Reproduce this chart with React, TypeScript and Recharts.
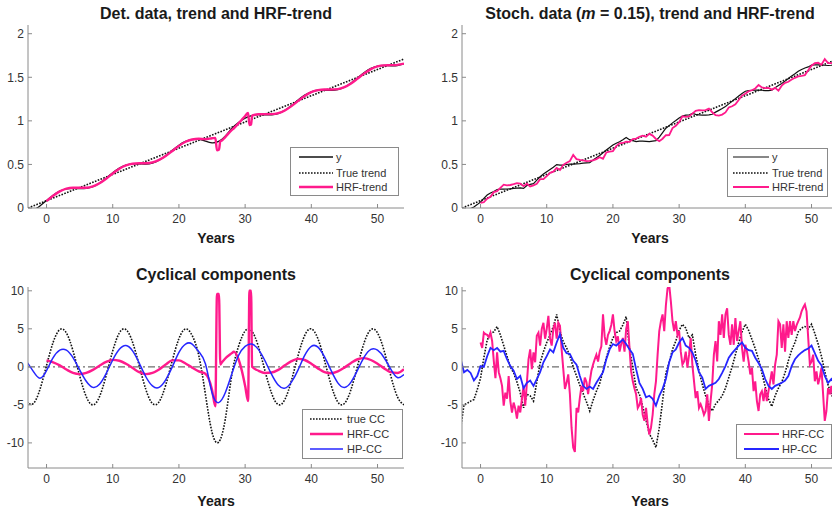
import React from 'react';
import { LineChart, Line, XAxis, YAxis, ReferenceLine } from 'recharts';

const range = (start: number, end: number, step: number) =>
  Array.from({ length: Math.round((end - start) / step) + 1 }, (_, i) => +(start + i * step).toFixed(2));

const FONT = '"Liberation Sans", Arial, Helvetica, sans-serif';
const PINK = '#ff1a8c';
const BLUE = '#2626ff';
const DARK = '#111111';
const DOTS = '1.6 1.4';

const xTicks = [0, 10, 20, 30, 40, 50];
const trendTicks = [0, 0.5, 1, 1.5, 2];
const cycleTicks = [-10, -5, 0, 5, 10];
const yearDomain = [-2.8, 54];
const trendDomain = [0, 2.1];
const cycleDomain = [-13.3, 10.5];

// ---- deterministic data (left column) ----
const detYears = range(-3, 54, 1);
const detY = [
  -0.052, -0.024, 0.024, 0.086, 0.146, 0.193, 0.219, 0.225, 0.222, 0.225, 0.244, 0.285, 0.342, 0.405, 0.459,
  0.493, 0.506, 0.506, 0.504, 0.516, 0.548, 0.6, 0.662, 0.721, 0.764, 0.785, 0.789, 0.768, 0.748, 0.765,
  0.825, 0.914, 0.981, 1.031, 1.061, 1.071, 1.069, 1.069, 1.084, 1.121, 1.176, 1.239, 1.295, 1.334, 1.351,
  1.352, 1.35, 1.358, 1.386, 1.434, 1.496, 1.556, 1.603, 1.629, 1.635, 1.632, 1.635, 1.654,
];
const detTrueCC = [
  -4.6, -4.82, -2.97, 0.17, 3.23, 4.9, 4.46, 2.1, -1.16, -3.92, -5.0, -3.92, -1.16, 2.1, 4.46, 4.9, 3.23,
  0.17, -2.97, -4.82, -4.6, -2.4, 0.83, 3.71, 4.99, 4.12, 1.48, -3.6, -8.6, -9.9, -6.9, -1.0, 2.69, 4.72,
  4.72, 2.69, -0.51, -3.48, -4.96, -4.3, -1.79, 1.49, 4.13, 4.99, 3.7, 0.83, -2.41, -4.61, -4.82, -2.96,
  0.17, 3.23, 4.9, 4.46, 2.1, -1.17, -3.93, -5.0,
];
const detHP = [
  0.7, -0.6, -1.5, -0.5, 1.2, 2.2, 2.2, 1.2, -0.4, -1.9, -2.7, -2.3, -0.9, 0.9, 2.3, 2.8, 2.1, 0.5, -1.3,
  -2.5, -2.7, -1.7, 0.0, 1.9, 3.0, 3.0, 2.0, 0.4, -3.4, -4.7, -3.4, -0.9, 1.5, 2.7, 3.0, 2.3, 0.8, -1.0,
  -2.4, -2.8, -2.0, -0.4, 1.5, 2.7, 2.6, 1.3, -0.5, -2.1, -2.7, -2.0, -0.4, 1.3, 2.3, 2.2, 1.2, -0.3, -1.4,
  -1.0,
];
const trendYears = [-2.8, 54];
const trueTrend = [0, 1.71];

const detHrfYears = [
  0, 1, 2, 3, 4, 5, 6, 7, 8, 9, 10, 11, 12, 13, 14, 15, 16, 17, 18, 19, 20, 21, 22, 23, 24, 25, 25.5, 25.75,
  26.05, 26.25, 26.5, 27, 28, 28.3, 29, 29.5, 30, 30.45, 30.65, 30.9, 31.05, 32, 33, 34, 35, 36, 37, 38, 39,
  40, 41, 42, 43, 44, 45, 46, 47, 48, 49, 50, 51, 52, 53, 54,
];
const detHrfTrend = [
  0.078, 0.14, 0.191, 0.223, 0.233, 0.232, 0.233, 0.248, 0.284, 0.336, 0.396, 0.451, 0.489, 0.508, 0.513,
  0.514, 0.524, 0.552, 0.597, 0.654, 0.713, 0.76, 0.786, 0.795, 0.79, 0.8, 0.804, 0.661, 0.67, 0.767, 0.774,
  0.814, 0.896, 0.915, 0.971, 1.013, 1.056, 1.09, 0.952, 0.958, 1.061, 1.076, 1.077, 1.077, 1.088, 1.119,
  1.169, 1.229, 1.286, 1.33, 1.353, 1.359, 1.359, 1.364, 1.387, 1.429, 1.486, 1.545, 1.594, 1.625, 1.637,
  1.639, 1.643, 1.657,
];
const detHrfCC = [
  0.85, 0.6, 0.2, -0.35, -0.8, -0.95, -0.8, -0.4, 0.15, 0.65, 0.92, 0.8, 0.4, -0.15, -0.7, -0.95, -0.8,
  -0.35, 0.3, 0.85, 0.85, 0.45, -0.1, -0.6, -0.9, -3.0, -5.2, 9.6, 9.6, 0.3, 0.6, 1.1, 1.8, 2.0, 1.0, -0.5,
  -2.5, -4.5, 10.0, 10.0, 0.0, -0.5, -0.8, -0.75, -0.4, 0.2, 0.75, 1.05, 0.9, 0.4, -0.2, -0.7, -0.85, -0.6,
  -0.1, 0.5, 1.0, 1.15, 0.9, 0.4, -0.2, -0.7, -0.8, -0.3,
];

// ---- stochastic data (right column) ----
const stochYears = range(-3, 54, 0.5);
const stochY = [
  -0.086, -0.041, -0.024, -0.006, 0.011, 0.039, 0.069, 0.111, 0.149, 0.173, 0.19, 0.212, 0.216, 0.217,
  0.218, 0.219, 0.226, 0.229, 0.23, 0.225, 0.258, 0.271, 0.279, 0.319, 0.359, 0.389, 0.416, 0.441, 0.467,
  0.498, 0.491, 0.492, 0.499, 0.503, 0.504, 0.507, 0.51, 0.514, 0.518, 0.521, 0.55, 0.577, 0.602, 0.634,
  0.666, 0.695, 0.722, 0.744, 0.761, 0.784, 0.81, 0.784, 0.773, 0.761, 0.768, 0.767, 0.764, 0.761, 0.768,
  0.773, 0.814, 0.864, 0.916, 0.945, 0.977, 1.003, 1.032, 1.055, 1.065, 1.067, 1.086, 1.075, 1.069, 1.066,
  1.066, 1.069, 1.076, 1.1, 1.12, 1.141, 1.166, 1.195, 1.224, 1.255, 1.286, 1.315, 1.34, 1.347, 1.35, 1.353,
  1.354, 1.351, 1.348, 1.347, 1.352, 1.381, 1.406, 1.429, 1.456, 1.487, 1.516, 1.541, 1.57, 1.59, 1.607,
  1.619, 1.64, 1.643, 1.644, 1.643, 1.638, 1.635, 1.638, 1.644, 1.654,
];
const stochTrueCC = [
  -8.0, -5.0, -4.8, -4.5, -4.3, -3.0, -1.5, 1.2, 3.5, 4.4, 4.6, 5.3, 4.2, 2.8, 1.4, 0.0, -0.8, -2.0, -3.4,
  -5.4, -3.6, -3.8, -4.5, -2.0, 0.5, 2.0, 3.2, 4.2, 5.3, 6.9, 4.7, 3.3, 2.5, 1.4, 0.0, -1.2, -2.4, -3.5, -4.6,
  -5.8, -4.4, -3.2, -2.2, -0.5, 1.2, 2.6, 3.8, 4.5, 4.7, 5.5, 6.6, 2.5, -0.1, -2.8, -3.6, -5.2, -7.0, -8.8,
  -9.6, -10.6, -8.0, -4.5, -0.8, 0.6, 2.3, 3.4, 4.8, 5.6, 5.1, 3.8, 4.2, 1.6, -0.5, -2.3, -3.8, -5.0, -5.8,
  -4.9, -4.4, -3.8, -2.8, -1.4, 0.0, 1.6, 3.2, 4.6, 5.6, 4.8, 3.6, 2.4, 1.0, -0.8, -2.6, -4.2, -5.2, -3.8,
  -2.8, -2.0, -0.8, 0.8, 2.2, 3.2, 4.6, 5.1, 5.3, 5.0, 5.6, 4.4, 3.0, 1.4, -0.6, -2.4, -3.6, -4.5, -5.0,
];
const stochHP = [
  1.0, -0.7, -0.4, -0.8, -1.8, -1.2, 0.1, 0.0, 1.4, 2.5, 2.2, 2.5, 2.0, 2.1, 1.0, 0.1, -0.5, -1.6, -1.2,
  -2.8, -2.1, -1.8, -2.5, -1.6, -0.7, 0.6, 1.4, 2.3, 1.9, 3.2, 4.3, 2.5, 1.8, 1.7, 0.8, 0.3, -1.2, -2.5, -2.9,
  -2.6, -2.9, -2.1, -1.4, -0.7, 1.0, 2.3, 3.0, 2.8, 3.2, 3.6, 3.0, 2.3, 1.7, -0.3, -2.1, -2.9, -4.0, -3.8,
  -4.2, -5.1, -3.8, -2.9, -1.6, 0.6, 1.9, 2.3, 3.2, 3.8, 2.8, 2.5, 1.9, 0.8, -0.7, -1.4, -2.9, -2.5, -2.3,
  -2.1, -1.6, -0.8, 0.1, 1.2, 1.8, 2.3, 2.8, 3.2, 2.5, 2.2, 2.1, 1.2, 0.5, -0.3, -1.6, -2.5, -2.9, -2.5, -2.3,
  -2.1, -1.8, -1.2, 0.1, 1.0, 1.5, 1.9, 2.2, 2.4, 2.8, 1.8, 0.8, 0.2, -1.2, -2.1, -1.6, -2.2, -2.5,
];
const stochHrfYears = range(0, 54, 0.5);
const stochHrfTrend = [
  0.06, 0.066, 0.107, 0.128, 0.182, 0.193, 0.231, 0.268, 0.26, 0.264, 0.273, 0.285, 0.28, 0.25, 0.279, 0.248,
  0.26, 0.278, 0.331, 0.331, 0.366, 0.404, 0.417, 0.461, 0.437, 0.495, 0.52, 0.539, 0.61, 0.561, 0.551, 0.546,
  0.538, 0.54, 0.547, 0.561, 0.582, 0.565, 0.637, 0.648, 0.653, 0.71, 0.741, 0.746, 0.76, 0.759, 0.792, 0.797,
  0.818, 0.83, 0.818, 0.85, 0.831, 0.792, 0.767, 0.795, 0.835, 0.837, 0.917, 0.943, 0.985, 1.052, 1.045,
  1.051, 1.083, 1.116, 1.123, 1.121, 1.124, 1.14, 1.099, 1.066, 1.06, 1.072, 1.097, 1.153, 1.168, 1.191,
  1.239, 1.29, 1.311, 1.34, 1.351, 1.372, 1.412, 1.383, 1.376, 1.379, 1.358, 1.378, 1.346, 1.404, 1.436,
  1.449, 1.474, 1.494, 1.51, 1.517, 1.525, 1.581, 1.633, 1.662, 1.667, 1.644, 1.709, 1.663, 1.663, 1.674,
  1.674,
];
const stochPinkYears = range(0, 54, 0.25);
const stochHrfCC = [
  3.2, 2.5, 4.5, 4.3, 4.2, 3.9, 4.5, 3.4, 0.8, -1.5, 1.9, -0.7, -1.5, -2.5, -5.1, -3.4,
  -4.2, -1.2, -4.5, -6.0, -4.7, -5.5, -6.8, -5.1, -6.0, -4.2, -2.5, -5.1, -2.1, 1.0, 2.3, -0.3,
  1.9, 0.6, 4.1, 4.5, 2.8, 5.0, 5.8, 3.7, 5.0, 6.7, 3.7, 2.8, 5.0, 5.8, 3.7, 5.8,
  5.4, 2.3, -0.3, -2.9, -2.1, -1.0, -3.6, -8.0, -10.6, -11.2, -5.4, -6.0, -4.1, -2.5, -3.2, -1.4,
  -2.0, -3.6, -1.9, -0.5, 0.3, 1.0, 1.6, 0.7, 2.0, 2.7, 6.9, 4.0, 2.9, 4.2, 4.7, 5.5,
  6.9, 4.7, 3.4, 4.0, 2.0, 3.0, 3.8, 2.0, 5.0, 6.0, 2.5, -0.6, -1.9, -2.8, -3.6, -5.4,
  -5.0, -4.1, -6.3, -7.1, -5.4, -7.5, -8.9, -8.0, -6.3, -3.6, -1.9, 1.6, 4.7, 6.0, 6.9, 4.7,
  8.1, 10.3, 10.8, 8.6, 6.0, 4.7, 6.0, 4.2, 4.7, 2.0, 0.3, 0.7, 2.0, -0.1, 1.6, 3.8,
  0.3, -1.9, -4.1, -3.2, -5.4, -4.9, -5.5, -6.3, -5.8, -3.6, -7.1, -4.5, -2.3, 1.6, 3.4, 0.7,
  6.0, 4.2, 6.9, 3.8, 6.9, 7.7, 4.2, 2.9, 5.6, 2.9, 6.4, 3.4, 4.7, 6.0, 2.5, 0.7,
  2.9, 2.0, 0.7, -1.0, -0.1, -3.2, -1.9, -4.5, -5.8, -3.6, -3.2, -4.5, -2.8, -4.5, -3.2, -1.9,
  -0.6, -2.3, 0.3, 1.6, 6.0, 5.6, 2.5, 5.6, 2.0, 6.0, 3.8, 6.0, 4.2, 6.0, 4.7, 5.5,
  6.0, 6.5, 7.3, 7.8, 8.2, 7.3, 3.8, 0.3, 0.7, 1.6, -1.9, -0.6, -2.3, -1.4, -0.1, -3.6,
  -7.1, -5.8, -2.8, -3.6, -2.5, -4.0, -3.0, -1.5, -2.0,
];

const pts = (xs: number[], vs: number[]) => xs.map((x, i) => ({ x, v: vs[i] }));

const tickStyle = { fontSize: 12, fill: '#333', fontFamily: FONT };
const boxStroke = { stroke: '#8a8a8a', strokeWidth: 1 };

type PanelProps = {
  left: number;
  top: number;
  width: number;
  height: number;
  marginTop: number;
  marginRight: number;
  yWidth: number;
  xHeight: number;
  yDomain: number[];
  yTicks: number[];
  zeroLine?: boolean;
  children: React.ReactNode;
};

function Panel(p: PanelProps) {
  return (
    <div style={{ position: 'absolute', left: p.left, top: p.top }}>
      <LineChart
        width={p.width}
        height={p.height}
        margin={{ top: p.marginTop, right: p.marginRight, bottom: 0, left: 0 }}
      >
        <XAxis
          dataKey="x"
          type="number"
          domain={yearDomain}
          ticks={xTicks}
          allowDataOverflow
          height={p.xHeight}
          tick={tickStyle}
          tickSize={-4}
          tickMargin={10}
          axisLine={boxStroke}
          tickLine={boxStroke}
        />
        <XAxis
          xAxisId="top"
          orientation="top"
          dataKey="x"
          type="number"
          domain={yearDomain}
          ticks={xTicks}
          allowDataOverflow
          height={0}
          tick={false}
          tickSize={-4}
          axisLine={boxStroke}
          tickLine={boxStroke}
        />
        <YAxis
          type="number"
          domain={p.yDomain}
          ticks={p.yTicks}
          allowDataOverflow
          width={p.yWidth}
          tick={tickStyle}
          tickSize={-4}
          tickMargin={8}
          axisLine={boxStroke}
          tickLine={boxStroke}
        />
        <YAxis
          yAxisId="right"
          orientation="right"
          type="number"
          domain={p.yDomain}
          ticks={p.yTicks}
          allowDataOverflow
          width={0}
          tick={false}
          tickSize={-4}
          axisLine={boxStroke}
          tickLine={boxStroke}
        />
        {p.zeroLine && (
          <ReferenceLine y={0} stroke="#6e6e6e" strokeWidth={1.4} strokeDasharray="7 3 2 3" />
        )}
        {p.children}
      </LineChart>
    </div>
  );
}

type LegendItem = { label: string; color: string; width: number; dash?: string };

function LegendBox(props: {
  left: number;
  top: number;
  width: number;
  height: number;
  rows: number[];
  lineX: [number, number];
  textX: number;
  items: LegendItem[];
}) {
  const { left, top, width, height, rows, lineX, textX, items } = props;
  return (
    <svg style={{ position: 'absolute', left, top }} width={width + 1} height={height + 1}>
      <rect x={0.5} y={0.5} width={width} height={height} fill="#fff" stroke="#8a8a8a" strokeWidth={1} />
      {items.map((it, i) => (
        <g key={it.label}>
          <line
            x1={lineX[0]}
            x2={lineX[1]}
            y1={rows[i]}
            y2={rows[i]}
            stroke={it.color}
            strokeWidth={it.width}
            strokeDasharray={it.dash}
          />
          <text x={textX} y={rows[i]} dy="0.35em" fontSize={11} fill="#333" fontFamily={FONT}>
            {it.label}
          </text>
        </g>
      ))}
    </svg>
  );
}

function Caption({ x, y, size, children }: { x: number; y: number; size: number; children: React.ReactNode }) {
  return (
    <div
      style={{
        position: 'absolute',
        left: x - 200,
        top: y - 10,
        width: 400,
        height: 20,
        lineHeight: '20px',
        textAlign: 'center',
        fontSize: size,
        fontWeight: 'bold',
        color: '#1a1a1a',
        fontFamily: FONT,
        whiteSpace: 'nowrap',
      }}
    >
      {children}
    </div>
  );
}

const common = { dot: false, activeDot: false, isAnimationActive: false } as const;

export default function App() {
  return (
    <div
      style={{
        position: 'fixed',
        left: 0,
        top: 0,
        width: 832,
        height: 510,
        overflow: 'hidden',
        background: '#fff',
        fontFamily: FONT,
      }}
    >
      {/* top left: deterministic data and trends */}
      <Panel left={0} top={0} width={416} height={255} marginTop={25} marginRight={12} yWidth={28} xHeight={47}
        yDomain={trendDomain} yTicks={trendTicks}>
        <Line {...common} data={pts(detYears, detY)} dataKey="v" type="natural" stroke={DARK} strokeWidth={1.3} />
        <Line {...common} data={pts(trendYears, trueTrend)} dataKey="v" type="linear" stroke={DARK} strokeWidth={1.6} strokeDasharray={DOTS} />
        <Line {...common} data={pts(detHrfYears, detHrfTrend)} dataKey="v" type="monotoneX" stroke={PINK} strokeWidth={2.4} />
      </Panel>

      {/* top right: stochastic data and trends */}
      <Panel left={416} top={0} width={440} height={255} marginTop={25} marginRight={18} yWidth={46} xHeight={47}
        yDomain={trendDomain} yTicks={trendTicks}>
        <Line {...common} data={pts(stochYears, stochY)} dataKey="v" type="linear" stroke={DARK} strokeWidth={1.2} />
        <Line {...common} data={pts(trendYears, trueTrend)} dataKey="v" type="linear" stroke={DARK} strokeWidth={1.6} strokeDasharray={DOTS} />
        <Line {...common} data={pts(stochHrfYears, stochHrfTrend)} dataKey="v" type="linear" stroke={PINK} strokeWidth={1.8} />
      </Panel>

      {/* bottom left: cyclical components, deterministic */}
      <Panel left={0} top={255} width={416} height={255} marginTop={32} marginRight={12} yWidth={28} xHeight={42}
        yDomain={cycleDomain} yTicks={cycleTicks} zeroLine>
        <Line {...common} data={pts(detYears, detTrueCC)} dataKey="v" type="natural" stroke={DARK} strokeWidth={1.6} strokeDasharray={DOTS} />
        <Line {...common} data={pts(detHrfYears, detHrfCC)} dataKey="v" type="monotoneX" stroke={PINK} strokeWidth={2.4} />
        <Line {...common} data={pts(detYears, detHP)} dataKey="v" type="natural" stroke={BLUE} strokeWidth={1.5} />
      </Panel>

      {/* bottom right: cyclical components, stochastic */}
      <Panel left={416} top={255} width={440} height={255} marginTop={32} marginRight={18} yWidth={46} xHeight={42}
        yDomain={cycleDomain} yTicks={cycleTicks} zeroLine>
        <Line {...common} data={pts(stochYears, stochTrueCC)} dataKey="v" type="linear" stroke={DARK} strokeWidth={1.6} strokeDasharray={DOTS} />
        <Line {...common} data={pts(stochPinkYears, stochHrfCC)} dataKey="v" type="linear" stroke={PINK} strokeWidth={2} />
        <Line {...common} data={pts(stochYears, stochHP)} dataKey="v" type="linear" stroke={BLUE} strokeWidth={1.8} />
      </Panel>

      <Caption x={216} y={14} size={16}>Det. data, trend and HRF-trend</Caption>
      <Caption x={650} y={14} size={16}>
        Stoch. data (<i>m</i> = 0.15), trend and HRF-trend
      </Caption>
      <Caption x={216} y={275} size={16}>Cyclical components</Caption>
      <Caption x={650} y={275} size={16}>Cyclical components</Caption>
      <Caption x={216} y={238} size={14}>Years</Caption>
      <Caption x={650} y={238} size={14}>Years</Caption>
      <Caption x={216} y={501} size={14}>Years</Caption>
      <Caption x={650} y={501} size={14}>Years</Caption>

      <LegendBox left={290} top={147} width={108} height={48} rows={[10, 26, 40]} lineX={[9, 43]} textX={46}
        items={[
          { label: 'y', color: DARK, width: 1.3 },
          { label: 'True trend', color: DARK, width: 1.6, dash: DOTS },
          { label: 'HRF-trend', color: PINK, width: 2.4 },
        ]} />
      <LegendBox left={727} top={148} width={100} height={48} rows={[9, 25, 39]} lineX={[6, 42]} textX={45}
        items={[
          { label: 'y', color: DARK, width: 1.2 },
          { label: 'True trend', color: DARK, width: 1.6, dash: DOTS },
          { label: 'HRF-trend', color: PINK, width: 1.8 },
        ]} />
      <LegendBox left={302} top={409} width={100} height={49} rows={[10, 25, 40]} lineX={[8, 41]} textX={45}
        items={[
          { label: 'true CC', color: DARK, width: 1.6, dash: DOTS },
          { label: 'HRF-CC', color: PINK, width: 2.4 },
          { label: 'HP-CC', color: BLUE, width: 1.5 },
        ]} />
      <LegendBox left={736} top={424} width={95} height={34} rows={[10, 25]} lineX={[8, 43]} textX={46}
        items={[
          { label: 'HRF-CC', color: PINK, width: 2 },
          { label: 'HP-CC', color: BLUE, width: 1.8 },
        ]} />
    </div>
  );
}
